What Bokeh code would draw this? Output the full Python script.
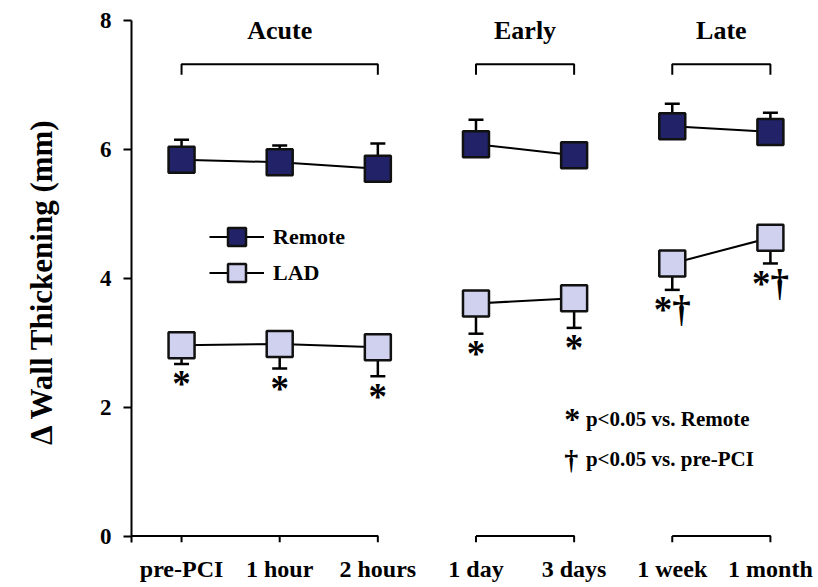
import math
from bokeh.plotting import figure
from bokeh.models import (Range1d, FixedTicker, Whisker, TeeHead, ColumnDataSource,
                          Legend, LegendItem, Label)
from bokeh.core.properties import value
from bokeh.embed import file_html
from bokeh.resources import INLINE

# ---------------- data ----------------
timepoints = ["pre-PCI", "1 hour", "2 hours", "1 day", "3 days", "1 week", "1 month"]
phase_of_point = ["Acute", "Acute", "Acute", "Early", "Early", "Late", "Late"]
phases = ["Acute", "Early", "Late"]
remote_mean = [5.84, 5.80, 5.70, 6.08, 5.91, 6.36, 6.27]
remote_upper = [6.15, 6.06, 6.09, 6.46, 6.11, 6.71, 6.57]
lad_mean = [2.96, 2.98, 2.93, 3.61, 3.69, 4.23, 4.63]
lad_lower = [2.67, 2.60, 2.48, 3.14, 3.23, 3.82, 4.23]
lad_marks = ["*", "*", "*", "*", "*", "*\u2020", "*\u2020"]
y_ticks = [0, 2, 4, 6, 8]

FONT = "Liberation Serif"
REMOTE_COL = "#222268"
LAD_COL = "#d0d0ef"
EDGE = "#111111"

xs = list(range(len(timepoints)))

# line coordinates broken between phases
def broken(vals):
    bx, by = [], []
    for i, v in enumerate(vals):
        if i > 0 and phase_of_point[i] != phase_of_point[i - 1]:
            bx.append(float("nan")); by.append(float("nan"))
        bx.append(xs[i]); by.append(v)
    return bx, by

p = figure(width=818, height=587, output_backend="svg", toolbar_location=None,
           x_range=Range1d(-0.51, 6.49), y_range=Range1d(-0.1, 8),
           min_border_left=131, min_border_right=0, min_border_top=20, min_border_bottom=45)
p.outline_line_color = None
p.xgrid.visible = False
p.ygrid.visible = False
p.background_fill_color = "white"
p.border_fill_color = "white"

# y axis
ya = p.yaxis[0]
ya.ticker = FixedTicker(ticks=y_ticks)
ya.minor_tick_line_color = None
ya.axis_line_width = 2
ya.axis_line_color = "black"
ya.major_tick_line_width = 2
ya.major_tick_out = 8
ya.major_tick_in = 0
ya.major_label_text_font = FONT
ya.major_label_text_font_style = "bold"
ya.major_label_text_font_size = "23px"
ya.major_label_text_color = "black"
ya.major_label_standoff = 12
ya.axis_label = "\u0394 Wall Thickening (mm)"
ya.axis_label_text_font = FONT
ya.axis_label_text_font_style = "bold"
ya.axis_label_text_font_size = "31px"
ya.axis_label_text_color = "black"
ya.axis_label_standoff = 38

# x axis (labels only; baseline drawn as brackets)
xa = p.xaxis[0]
xa.ticker = FixedTicker(ticks=xs)
xa.major_label_overrides = {i: t for i, t in enumerate(timepoints)}
xa.axis_line_color = None
xa.major_tick_line_color = None
xa.minor_tick_line_color = None
xa.major_tick_out = 0
xa.major_tick_in = 0
xa.major_label_standoff = 13
xa.major_label_text_font = FONT
xa.major_label_text_font_style = "bold"
xa.major_label_text_font_size = "24px"
xa.major_label_text_color = "black"

# phase brackets (top) and baseline brackets (bottom)
top_xs, top_ys, bot_xs, bot_ys, label_x = [], [], [], [], []
for ph in phases:
    idx = [i for i, q in enumerate(phase_of_point) if q == ph]
    a, b = min(idx), max(idx)
    top_xs.append([a, a, b, b]); top_ys.append([7.16, 7.32, 7.32, 7.16])
    left = -0.51 if a == 0 else a
    bot_xs.append([left, b, b]); bot_ys.append([0, 0, -0.1])
    if a != 0:
        bot_xs.append([a, a]); bot_ys.append([-0.1, 0])
    for i in idx[:-1]:
        if a == 0:
            bot_xs.append([i, i]); bot_ys.append([0, -0.1])
    label_x.append((a + b) / 2)
p.multi_line(top_xs, top_ys, line_color="black", line_width=2)
p.multi_line(bot_xs, bot_ys, line_color="black", line_width=2)
p.text(x=label_x, y=[7.84] * len(phases), text=phases, text_font=value(FONT),
       text_font_style="bold", text_font_size="26px", text_align="center",
       text_baseline="middle", text_color="black")

# error bars
rsrc = ColumnDataSource(dict(x=xs, mean=remote_mean, upper=remote_upper))
lsrc = ColumnDataSource(dict(x=xs, mean=lad_mean, lower=lad_lower, marks=lad_marks))
p.add_layout(Whisker(source=rsrc, base="x", upper="upper", lower="mean", dimension="height",
                     line_width=2.5, line_color="black", level="underlay",
                     upper_head=TeeHead(size=15, line_width=2.5, line_color="black"),
                     lower_head=None))
p.add_layout(Whisker(source=lsrc, base="x", upper="mean", lower="lower", dimension="height",
                     line_width=2.5, line_color="black", level="underlay",
                     lower_head=TeeHead(size=15, line_width=2.5, line_color="black"),
                     upper_head=None))

# connecting lines
rx, ry = broken(remote_mean)
lx, ly = broken(lad_mean)
r_line = p.line(rx, ry, line_color="black", line_width=2)
l_line = p.line(lx, ly, line_color="black", line_width=2)

# markers
r_sq = p.scatter("x", "mean", source=rsrc, marker="square", size=26,
                 fill_color=REMOTE_COL, line_color=EDGE, line_width=2.5)
l_sq = p.scatter("x", "mean", source=lsrc, marker="square", size=26,
                 fill_color=LAD_COL, line_color=EDGE, line_width=2.5)

# significance marks
p.text(x="x", y="lower", text="marks", source=lsrc, y_offset=20,
       text_font=value(FONT), text_font_style="bold", text_font_size="37px",
       text_align="center", text_baseline="alphabetic", text_color="black")

# legend (one box per entry for exact placement)
for lab, rends, vy in [("Remote", [r_line, r_sq], 283), ("LAD", [l_line, l_sq], 247)]:
    p.add_layout(Legend(items=[LegendItem(label=lab, renderers=rends)],
                        location=(78, vy), glyph_width=55, glyph_height=45,
                        padding=0, margin=0, label_standoff=9,
                        border_line_color=None, background_fill_alpha=0,
                        label_text_font=FONT, label_text_font_style="bold",
                        label_text_font_size="22px", label_text_color="black"))

# key
key_rows = [("*", "p<0.05 vs. Remote", 1.81, "32px"),
            ("\u2020", "p<0.05 vs. pre-PCI", 1.19, "28px")]
for sym, txt, yy, sz in key_rows:
    p.add_layout(Label(x=3.90, y=yy, text=sym, text_font=FONT, text_font_style="bold",
                       text_font_size=sz, text_baseline="alphabetic", text_color="black"))
    p.add_layout(Label(x=4.12, y=yy, text=txt, text_font=FONT, text_font_style="bold",
                       text_font_size="21px", text_baseline="alphabetic", text_color="black"))

open("out.html", "w").write(file_html(p, INLINE))
